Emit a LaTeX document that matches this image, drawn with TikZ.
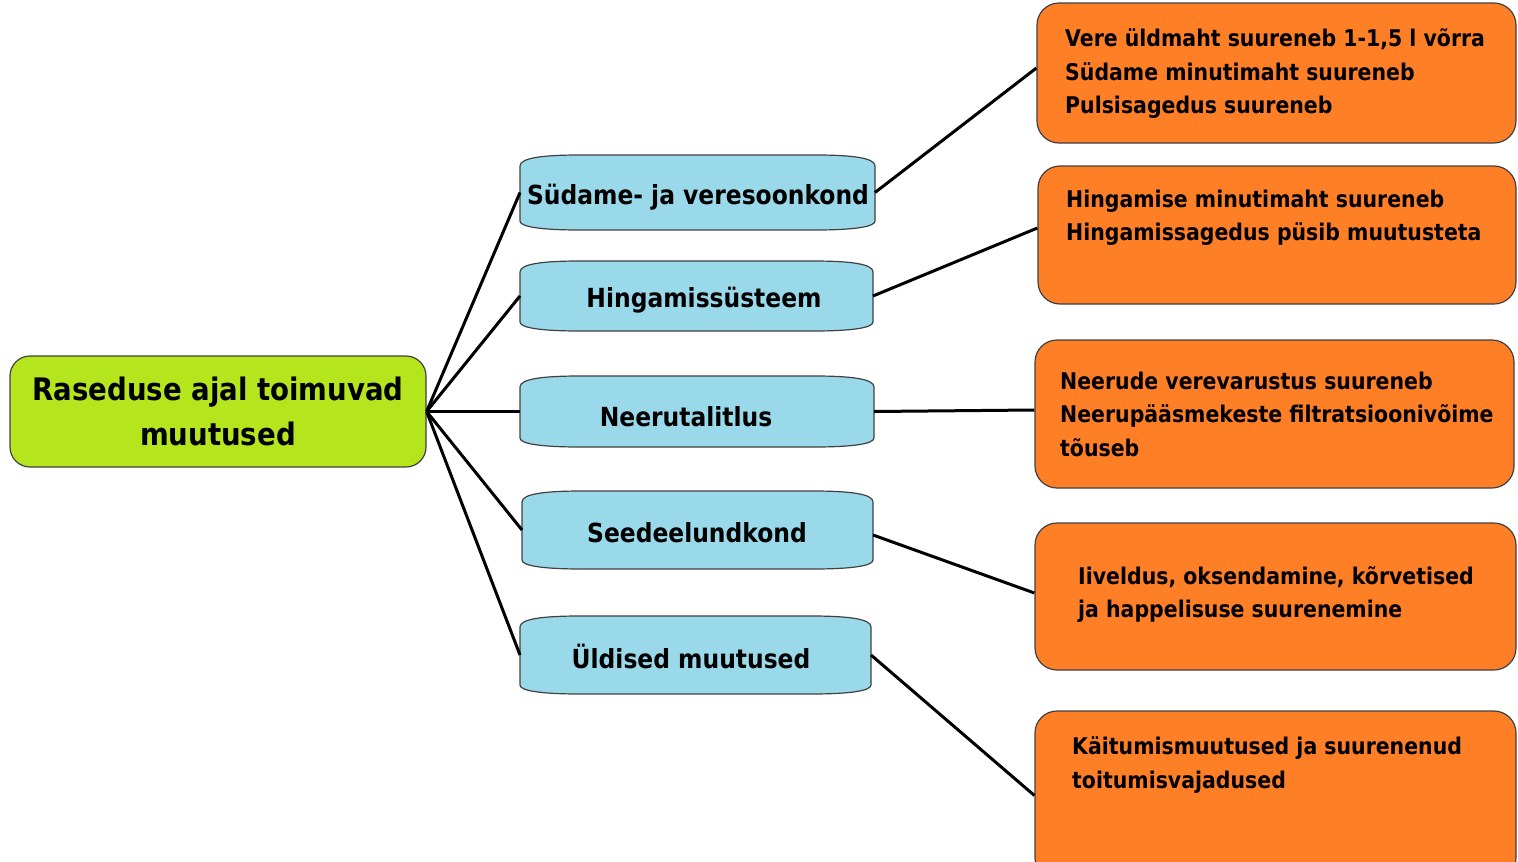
\documentclass[tikz,border=0pt]{standalone}
\usepackage{fontspec}
\setmainfont{DejaVu Sans}[FakeStretch=0.89]
\usetikzlibrary{calc}
\definecolor{orng}{HTML}{FF7F27}
\definecolor{lblue}{HTML}{99D9EA}
\definecolor{lime}{HTML}{B5E61D}
\definecolor{edge}{HTML}{404040}
\tikzset{
  greenbox/.style={draw=edge, line width=1.2pt, fill=lime, rounded corners=20pt, minimum width=416pt, minimum height=111pt, inner sep=0pt, align=center, font=\bfseries\fontsize{31}{45}\selectfont},
  blueshape/.style={draw=none, minimum width=#1, minimum height=75pt, inner sep=0pt, outer sep=0pt},
  bluefill/.style={draw=edge, line width=1.2pt, fill=lblue},
  bluetext/.style={inner sep=0pt, font=\bfseries\fontsize{26.3}{30}\selectfont},
  orangebox/.style={draw=edge, line width=1.2pt, fill=orng, rounded corners=22pt, inner sep=0pt},
  otext/.style={inner sep=0pt, anchor=west, align=left, font=\bfseries\fontsize{23}{33.5}\selectfont},
  conn/.style={line width=3pt, black}
}
\newcommand\tapeshape[1]{%
  \path[bluefill] ($(#1.north west)+(0,11)$)
    .. controls ($(#1.north west)+(0,3)$) and ($(#1.north west)+(22,0)$) .. ($(#1.north west)+(60,0)$)
    -- ($(#1.north east)+(-60,0)$)
    .. controls ($(#1.north east)+(-22,0)$) and ($(#1.north east)+(0,3)$) .. ($(#1.north east)+(0,11)$)
    -- ($(#1.south east)+(0,-9)$)
    .. controls ($(#1.south east)+(0,-3)$) and ($(#1.south east)+(-22,0)$) .. ($(#1.south east)+(-60,0)$)
    -- ($(#1.south west)+(60,0)$)
    .. controls ($(#1.south west)+(22,0)$) and ($(#1.south west)+(0,-3)$) .. ($(#1.south west)+(0,-9)$)
    -- cycle;}
\begin{document}
\begin{tikzpicture}[x=1pt,y=-1pt]
\useasboundingbox (0,0) rectangle (1518,862);
\clip (0,0) rectangle (1518,862);

% central node
\node[greenbox] (g) at (218,411.5) {Raseduse ajal toimuvad\\muutused};

% blue category shapes
\node[blueshape=355pt, minimum height=75pt] (b1) at (697.5,192.5) {};
\node[blueshape=353pt, minimum height=70pt] (b2) at (696.5,296) {};
\node[blueshape=354pt, minimum height=71pt] (b3) at (697,411.5) {};
\node[blueshape=351pt, minimum height=78pt] (b4) at (697.5,530) {};
\node[blueshape=351pt, minimum height=78pt] (b5) at (695.5,655) {};
\foreach \n in {b1,b2,b3,b4,b5} {\tapeshape{\n}}

\node[bluetext] (b1t) at (698,197) {Südame- ja veresoonkond};
\node[bluetext] (b2t) at (704,300) {Hingamissüsteem};
\node[bluetext] (b3t) at (686,417) {Neerutalitlus};
\node[bluetext] (b4t) at (697,533) {Seedeelundkond};
\node[bluetext] (b5t) at (691,656) {Üldised muutused};

% orange boxes
\node[orangebox, minimum width=479pt, minimum height=140pt] (o1) at (1276.5,73) {};
\node[orangebox, minimum width=478pt, minimum height=138pt] (o2) at (1277,235) {};
\node[orangebox, minimum width=479pt, minimum height=148pt] (o3) at (1274.5,414) {};
\node[orangebox, minimum width=481pt, minimum height=147pt] (o4) at (1275.5,596.5) {};
\node[orangebox, minimum width=481pt, minimum height=169pt] (o5) at (1275.5,795.5) {};

\node[otext] (t1) at (1065,73.7) {Vere üldmaht suureneb 1-1,5 l võrra\\Südame minutimaht suureneb\\Pulsisagedus suureneb};
\node[otext] (t2) at (1066,217.5) {Hingamise minutimaht suureneb\\Hingamissagedus püsib muutusteta};
\node[otext] (t3) at (1060,414.3) {Neerude verevarustus suureneb\\Neerupääsmekeste filtratsioonivõime\\tõuseb};
\node[otext] (t4) at (1078,594.5) {Iiveldus, oksendamine, kõrvetised\\ja happelisuse suurenemine};
\node[otext] (t5) at (1072,765) {Käitumismuutused ja suurenenud\\toitumisvajadused};

% connectors
\foreach \n in {b1,b2,b3,b4,b5} {\draw[conn] (g.east) -- (\n.west);}
\draw[conn] (b1.east) -- ([yshift=5pt]o1.west);
\draw[conn] (b2.east) -- ([yshift=7pt]o2.west);
\draw[conn] (b3.east) -- ([yshift=4pt]o3.west);
\draw[conn] ([yshift=-5pt]b4.east) -- ([yshift=3.5pt]o4.west);
\draw[conn] (b5.east) -- (o5.west);
\end{tikzpicture}
\end{document}
